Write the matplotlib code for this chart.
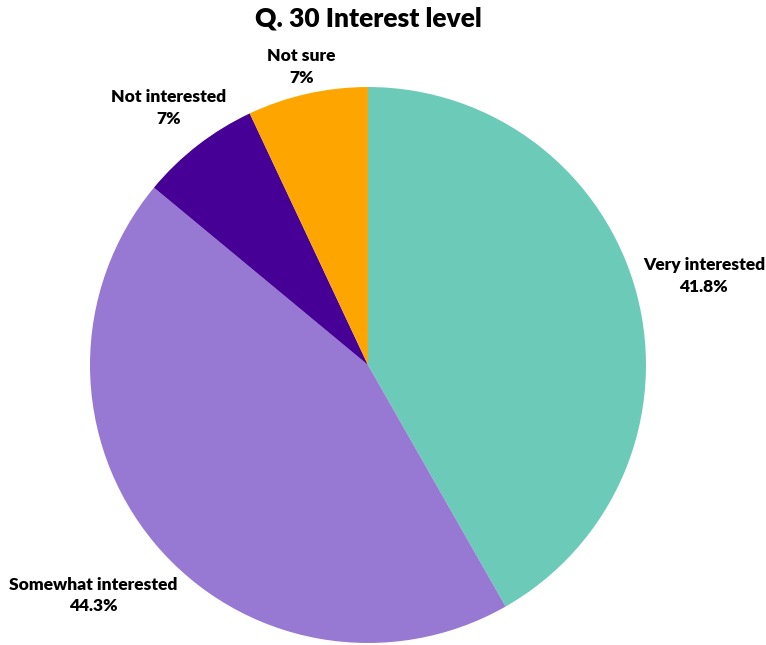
import numpy as np
import matplotlib.pyplot as plt

plt.rcParams['font.family'] = ['Lato', 'DejaVu Sans']

# Survey answers, clockwise from the top
categories = ["Very interested", "Somewhat interested", "Not interested", "Not sure"]
shares = [41.8, 44.3, 7.0, 7.0]
share_labels = ["41.8%", "44.3%", "7%", "7%"]
colors = ["#6CCAB9", "#9778D3", "#460096", "#FFA500"]
label_dist = [1.25, 1.29, 1.17, 1.10]

fig = plt.figure(figsize=(7.66, 6.45), dpi=100)
ax = fig.add_axes([0.1175, 0.0031, 0.7258, 0.862])

wedges, _ = ax.pie(shares, colors=colors, startangle=90, counterclock=False,
                   radius=1, wedgeprops=dict(linewidth=0))

for w, name, pct, d in zip(wedges, categories, share_labels, label_dist):
    mid = np.deg2rad((w.theta1 + w.theta2) / 2)
    ax.text(d * np.cos(mid), d * np.sin(mid), f"{name}\n{pct}",
            ha="center", va="center", fontsize=12.5, fontweight="heavy",
            linespacing=1.45)

ax.set_xlim(-1, 1)
ax.set_ylim(-1, 1)
ax.set_aspect("equal")
ax.axis("off")

fig.text(0.4804, 1 - 19 / 645, "Q. 30 Interest level", ha="center", va="center",
         fontsize=19, fontweight="heavy")

fig.savefig("out.png", dpi=100)
